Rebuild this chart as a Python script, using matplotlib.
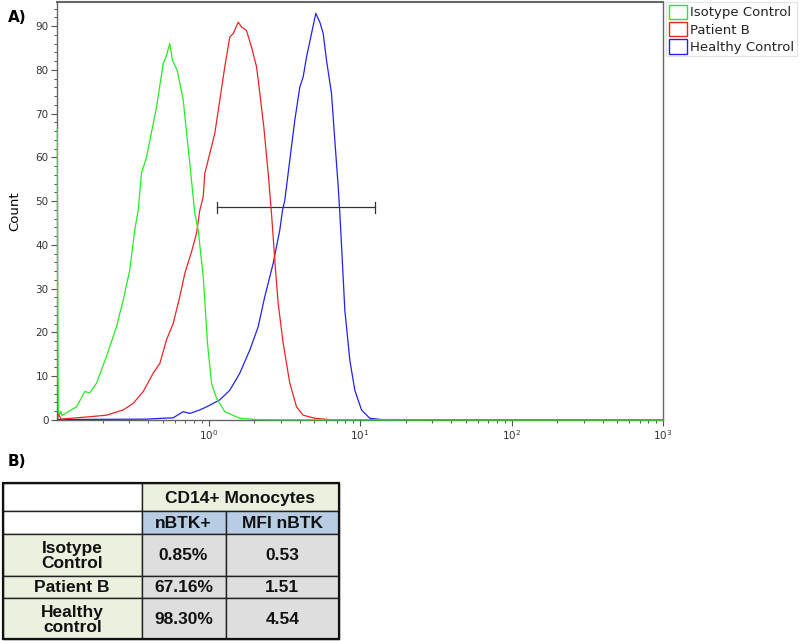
import matplotlib.pyplot as plt
from matplotlib.patches import Patch, Rectangle

# Histogram traces (fluorescence, count)
iso_x = [0.1005, 0.101, 0.102, 0.104, 0.106, 0.108, 0.112, 0.1345, 0.1526, 0.1646, 0.1823,
         0.212, 0.247, 0.2735, 0.302, 0.326, 0.3435, 0.361, 0.390, 0.4315, 0.454, 0.502,
         0.528, 0.555, 0.5785, 0.621, 0.681, 0.7525, 0.812, 0.855, 0.923, 0.985, 1.047,
         1.129, 1.281, 1.609, 2.07, 3.0, 1000]
iso_y = [66.5, 30.0, 2.0, 1.2, 2.0, 1.0, 1.4, 3.0, 6.5, 6.2, 8.4,
         14.5, 21.3, 27.4, 34.2, 43.4, 47.9, 56.4, 60.1, 67.7, 71.5, 81.4,
         83.3, 86.0, 82.2, 79.9, 73.1, 58.6, 47.2, 43.4, 32.7, 17.5, 8.4,
         5.0, 1.9, 0.4, 0.1, 0.05, 0.0]

pat_x = [0.101, 0.1025, 0.106, 0.1646, 0.212, 0.2735, 0.3184, 0.3707, 0.4315, 0.477,
         0.528, 0.585, 0.6466, 0.6977, 0.772, 0.833, 0.876, 0.923, 0.945, 1.020, 1.1005,
         1.1875, 1.281, 1.382, 1.456, 1.571, 1.651, 1.781, 1.922, 2.075, 2.182, 2.317,
         2.478, 2.605, 2.739, 2.884, 3.112, 3.441, 3.81, 4.217, 5.03, 6.48, 1000]
pat_y = [0.3, 1.5, 0.2, 0.75, 1.1, 2.3, 3.8, 6.5, 10.7, 12.9,
         18.3, 22.1, 28.2, 33.5, 38.4, 42.6, 47.9, 51.0, 56.3, 60.9, 65.5,
         73.1, 80.7, 87.5, 88.3, 90.9, 89.8, 89.0, 85.2, 80.7, 74.6, 67.0,
         56.3, 47.2, 36.5, 26.6, 17.5, 8.4, 3.0, 1.1, 0.4, 0.05, 0.0]

hc_x = [0.101, 0.39, 0.502, 0.585, 0.681, 0.7525, 0.876, 0.970, 1.020, 1.129, 1.1875,
        1.382, 1.609, 1.874, 2.128, 2.353, 2.673, 2.955, 3.079, 3.189, 3.441, 3.713,
        4.006, 4.217, 4.436, 4.786, 5.108, 5.43, 5.715, 6.01, 6.485, 6.82, 7.18, 7.36,
        7.55, 7.94, 8.565, 9.24, 10.23, 11.6, 13.87, 1000]
hc_y = [0.1, 0.2, 0.4, 0.5, 1.9, 1.5, 2.3, 3.0, 3.4, 4.2, 4.6,
        6.8, 10.7, 16.0, 21.3, 28.2, 35.8, 43.4, 47.9, 50.2, 59.4, 68.5,
        76.1, 78.4, 82.9, 88.3, 92.9, 90.9, 88.3, 82.2, 74.6, 63.9, 53.3, 47.2,
        40.0, 25.1, 13.7, 6.8, 2.3, 0.4, 0.1, 0.0]

gate = [1.13, 12.6]
gate_y = 48.6

series = ["Isotype Control", "Patient B", "Healthy Control"]
colors = ["#22ee22", "#ee2222", "#2222ee"]

# Table contents
tbl_header = "CD14+ Monocytes"
tbl_cols = ["nBTK+", "MFI nBTK"]
tbl_rows = ["Isotype\nControl", "Patient B", "Healthy\ncontrol"]
tbl_pct = ["0.85%", "67.16%", "98.30%"]
tbl_mfi = ["0.53", "1.51", "4.54"]

fig = plt.figure(figsize=(8, 6.41), dpi=100)
ax = fig.add_axes([57 / 800, 221 / 641, 606 / 800, 418 / 641])

ax.plot(hc_x, hc_y, color=colors[2], lw=0.9, zorder=3)
ax.plot(pat_x, pat_y, color=colors[1], lw=0.9, zorder=3)
ax.plot(iso_x, iso_y, color=colors[0], lw=0.9, zorder=3, clip_on=False)

# gate marker
ax.plot(gate, [gate_y, gate_y], color="#333333", lw=0.9)
for gx in gate:
    ax.plot([gx, gx], [gate_y - 1.2, gate_y + 1.2], color="#333333", lw=0.9)

ax.set_xscale("log")
ax.set_xlim(0.1, 1000)
ax.set_ylim(0, 95.5)
ax.set_xticks([1, 10, 100, 1000])
ax.set_xticklabels([r"$10^0$", r"$10^1$", r"$10^2$", r"$10^3$"])
ax.set_yticks(range(0, 100, 10))
ax.set_yticks(range(0, 96, 2), minor=True)
ax.tick_params(axis="both", which="major", length=4, width=0.8, color="#555555",
               labelsize=7.5, labelcolor="#333333", pad=2)
ax.tick_params(axis="both", which="minor", length=2.5, width=0.7, color="#555555")
for s in ax.spines.values():
    s.set_color("#666666")
    s.set_linewidth(1.0)
ax.spines["top"].set_linewidth(1.5)
ax.set_ylabel("Count", fontsize=9.5, labelpad=10)

handles = [Patch(facecolor="white", edgecolor=c, lw=1.0) for c in colors]
leg = ax.legend(handles, series, loc="upper left", bbox_to_anchor=(1.005, 1.0),
                borderaxespad=0, fontsize=9.5, frameon=True, fancybox=False,
                handlelength=1.4, handleheight=1.3, handletextpad=0.25,
                labelspacing=0.2, borderpad=0.2)
leg.get_frame().set_edgecolor("#dddddd")
leg.get_frame().set_linewidth(0.8)
for t in leg.get_texts():
    t.set_color("#222222")

fig.text(8 / 800, 1 - 18 / 641, "A)", fontsize=11, fontweight="bold", va="center")
fig.text(8 / 800, 1 - 462 / 641, "B)", fontsize=11, fontweight="bold", va="center")

# Table drawn in pixel coordinates
tax = fig.add_axes([0, 0, 1, 1])
tax.set_xlim(0, 800)
tax.set_ylim(641, 0)
tax.axis("off")
tax.patch.set_alpha(0)

xs = [3, 141.5, 225.5, 339]
ys = [483, 511, 534, 576, 598, 639]
green = "#ebf1de"
blue = "#b8cce4"
gray = "#dedede"
tfont = dict(fontsize=12.5, fontweight="bold", family="Liberation Sans",
             ha="center", va="center", color="#111111")


def cell(x0, x1, y0, y1, fc, text=None):
    tax.add_patch(Rectangle((x0, y0), x1 - x0, y1 - y0, facecolor=fc,
                            edgecolor="#222222", lw=1.0))
    if text:
        tax.text((x0 + x1) / 2, (y0 + y1) / 2 + 1, text, linespacing=1.0, **tfont)


cell(xs[0], xs[1], ys[0], ys[1], "white")
cell(xs[1], xs[3], ys[0], ys[1], green, tbl_header)
cell(xs[0], xs[1], ys[1], ys[2], "white")
for j, name in enumerate(tbl_cols):
    cell(xs[j + 1], xs[j + 2], ys[1], ys[2], blue, name)
for i, name in enumerate(tbl_rows):
    cell(xs[0], xs[1], ys[i + 2], ys[i + 3], green, name)
    cell(xs[1], xs[2], ys[i + 2], ys[i + 3], gray, tbl_pct[i])
    cell(xs[2], xs[3], ys[i + 2], ys[i + 3], gray, tbl_mfi[i])
tax.add_patch(Rectangle((xs[0], ys[0]), xs[3] - xs[0], ys[-1] - ys[0],
                        facecolor="none", edgecolor="#111111", lw=1.6))

fig.savefig("out.png", dpi=100)
